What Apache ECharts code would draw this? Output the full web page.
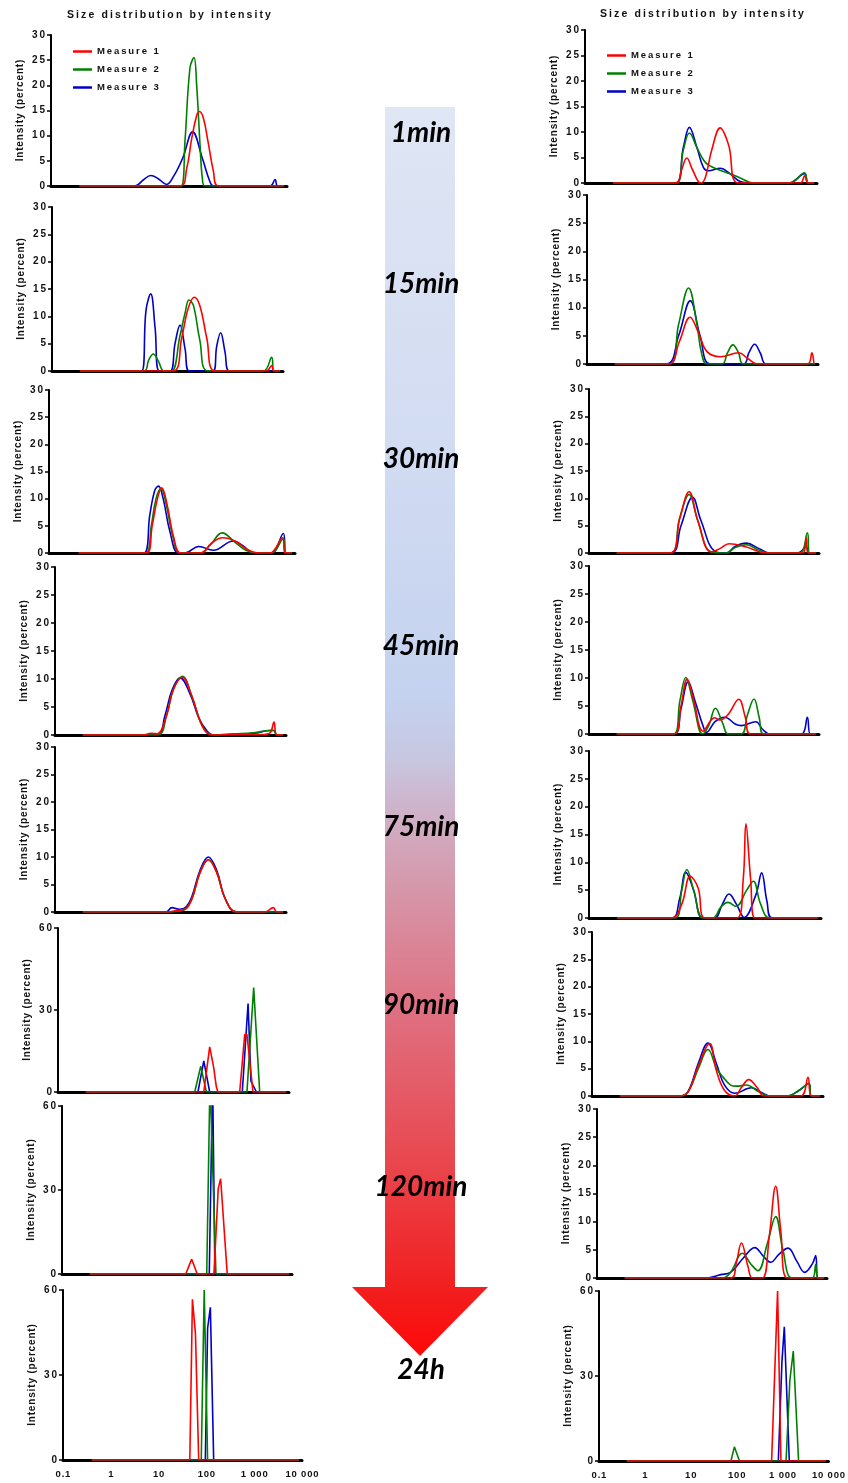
<!DOCTYPE html>
<html>
<head>
<meta charset="utf-8">
<script src="https://cdn.jsdelivr.net/npm/echarts/dist/echarts.min.js"></script>
<style>
  html, body { margin: 0; padding: 0; background: #fff; }
  #chart { width: 848px; height: 1483px; }
</style>
</head>
<body>
<div id="chart"></div>
<script>
// tick labels / names
const sizeTicks = [0.1, 1, 10, 100, 1000, 10000]
const sizeTickLabels = ['0.1', '1', '10', '100', '1 000', '10 000']
const timeLabels = ['1min', '15min', '30min', '45min', '75min', '90min', '120min', '24h']
const measureNames = ['Measure 1', 'Measure 2', 'Measure 3']

// [size (d.nm), intensity %] -- left column
const L1_m1 = [[0.4,0],[54,0],[75,3.5],[96,9.5],[122,14],[139,14.8],[169,13.5],[215,8.5],[275,3],[351,0],[8700,0]]
const L1_m2 = [[0.4,0],[57,0],[69,9],[88,23.5],[107,25.5],[122,20],[144,8],[161,1.5],[183,0],[8700,0]]
const L1_m3 = [[0.4,0],[6,0],[9,1.2],[13,2.1],[19,1.4],[28,0.3],[40,2],[62,5.6],[100,10.75],[162,5.4],[230,1],[275,0],[4400,0],[5600,1.3],[6300,0],[8700,0]]

const L2_m1 = [[0.4,0],[42,0],[64,6],[89,11.5],[120,13.5],[158,12],[224,6],[339,0],[4400,0],[5700,1],[6400,0],[8700,0]]
const L2_m2 = [[0.4,0],[9.8,0],[12.4,2],[15.6,3.1],[20,1.8],[26.5,0],[39,0],[59,6.5],[76,10.6],[92,13],[115,12],[158,5.7],[240,0],[3760,0],[5690,2.5],[6380,0],[8700,0]]
const L2_m3 = [[0.4,0],[8.7,0],[10.8,11],[13.7,14.1],[17,8],[21,0],[36,0],[46,5],[59,8.4],[76,4],[93,0],[309,0],[367,4.5],[447,7],[555,3.5],[690,0],[8700,0]]

const L3_m1 = [[0.4,0],[9.6,0],[12.5,5],[16,10],[19.6,12],[25,9],[34,3],[48,0],[125,0],[200,1.8],[340,2.8],[600,2.2],[1100,0.6],[1900,0],[3100,0],[5600,2.8],[6300,0],[8700,0]]
const L3_m2 = [[0.4,0],[9.3,0],[12,5],[15,10],[19,11.9],[24,9],[33,3],[46,0],[117,0],[190,1.5],[331,3.7],[600,2],[1000,0.5],[1660,0],[3350,0],[5780,2.6],[6560,0],[8700,0]]
const L3_m3 = [[0.4,0],[8.5,0],[11.2,7],[14.1,11.5],[16.8,12.3],[20.9,10],[28.6,4],[42,0],[58,0],[111,1.2],[218,0.5],[556,2.2],[890,1.3],[1420,0],[3350,0],[5780,3.6],[6560,0],[8700,0]]

const L4_m1 = [[0.4,0],[8,0],[12,0.3],[16.4,0.2],[26,3.5],[36,8],[57,10.3],[91,7],[138,2.5],[192,0.4],[270,0],[800,0.1],[3000,0.1],[4500,0.4],[5500,2.3],[6300,0],[8700,0]]
const L4_m2 = [[0.4,0],[16.4,0],[26,3.5],[36,8],[57,10.5],[91,7],[138,2.5],[192,0.5],[270,0],[725,0.2],[2000,0.4],[4500,0.8],[5500,0.8],[6300,0],[8700,0]]
const L4_m3 = [[0.4,0],[16,0],[24,3.5],[34,8],[51,10.2],[85,7.2],[130,3],[192,0.8],[270,0],[725,0.1],[2000,0.3],[4500,0.8],[5500,0.8],[6300,0],[8700,0]]

const L5_m1 = [[0.4,0],[28,0],[45,0.3],[65,0.5],[91,2.3],[138,7.2],[208,9.5],[316,7.2],[479,2.5],[850,0],[3500,0],[5300,0.8],[6300,0],[8700,0]]
const L5_m2 = [[0.4,0],[30,0],[60,0.3],[91,2.3],[138,7.2],[208,9.5],[316,7.2],[479,2.5],[850,0],[8700,0]]
const L5_m3 = [[0.4,0],[25,0],[34,0.8],[50,0.5],[70,1],[91,2.7],[138,7.6],[208,10],[316,7.6],[479,2.5],[850,0],[8700,0]]

const L6_m1 = [[0.4,0],[143,0],[192,16.5],[234,9],[268,1.8],[290,0],[857,0],[1100,21],[1230,21],[1660,0],[8700,0]]
const L6_m2 = [[0.4,0],[91,0],[123,9.4],[163,0],[1230,0],[1720,38.2],[2320,0],[8700,0]]
const L6_m3 = [[0.4,0],[107,0],[143,11.4],[192,0],[975,0],[1300,32.4],[1500,4],[1970,0],[8700,0]]

const L7_m1 = [[0.4,0],[49,0],[66,5.3],[87,0],[201,0],[249,30.5],[281,34],[391,0],[8700,0]]
const L7_m2 = [[0.4,0],[140,0],[165,70],[222,0],[8700,0]]
const L7_m3 = [[0.4,0],[159,0],[188,70],[211,0],[8700,0]]

const L8_m1 = [[0.4,0],[45,0],[51,56.7],[59,44.7],[69,0],[8700,0]]
const L8_m2 = [[0.4,0],[78,0],[90,60],[106,0],[8700,0]]
const L8_m3 = [[0.4,0],[95,0],[106,46.5],[121,53.9],[142,0],[8700,0]]

// right column
const R1_m1 = [[0.4,0],[9.2,0],[12,2.5],[15.6,4.9],[21,2.5],[31,0],[39,1],[54,6.5],[82,10.8],[124,7.5],[204,0],[4370,0],[5410,1.4],[6390,0],[8700,0]]
const R1_m2 = [[0.4,0],[8.8,0],[13.2,6.5],[17.8,9.8],[25.7,7],[35.8,4.5],[46,3.5],[82,2.5],[135,1.8],[222,1],[429,0],[2600,0],[5400,2],[6400,0],[8700,0]]
const R1_m3 = [[0.4,0],[8.8,0],[13.2,7],[17.8,10.9],[25.7,7],[35.8,3],[46,2.4],[82,2.9],[135,1.8],[222,0.3],[429,0],[2440,0],[5400,1.8],[6400,0],[8700,0]]

const R2_m1 = [[0.4,0],[5.8,0],[10,4],[17,8.3],[26,5.5],[39.5,2.2],[77,1.3],[192,2],[300,1],[479,0],[5950,0],[7400,2],[8400,0],[8700,0]]
const R2_m2 = [[0.4,0],[6.1,0],[9.6,7],[15.8,13.5],[24,7],[30,2],[39.5,0],[84,0],[110,2],[144,3.4],[190,2],[245,0],[8700,0]]
const R2_m3 = [[0.4,0],[5.2,0],[9.6,5],[17.2,11.2],[28,5],[47,0],[245,0],[320,2],[425,3.5],[560,2],[760,0],[8700,0]]

const R3_m1 = [[0.4,0],[5.7,0],[9.4,6.3],[15,11.2],[23.6,5.7],[45,0.2],[70,0.8],[111,1.7],[263,1.1],[720,0],[4490,0],[5300,2.8],[5750,0],[8700,0]]
const R3_m2 = [[0.4,0],[5.7,0],[9.4,6.5],[15,10.7],[23,6],[45,0.2],[98,0],[150,1],[263,1.5],[500,0.5],[850,0],[3800,0],[5590,3.7],[6260,0],[8700,0]]
const R3_m3 = [[0.4,0],[6,0],[10,5],[17.8,10.2],[27,6],[55,0.3],[98,0],[150,1.2],[263,1.8],[500,0.8],[850,0],[3500,0],[5300,1.1],[6000,0],[8700,0]]

const R4_m1 = [[0.4,0],[7,0],[10,5],[13.6,9.8],[19,6],[30,0.5],[54,2.9],[70,2.5],[106,3.5],[180,6.2],[250,3],[324,0],[8700,0]]
const R4_m2 = [[0.4,0],[6.8,0],[9.5,6],[12.7,10.1],[18,6],[29.4,0],[40,1.5],[56,4.6],[80,2],[106,0],[206,0],[280,3.5],[387,6.25],[500,3],[631,0],[8700,0]]
const R4_m3 = [[0.4,0],[7,0],[10,4.5],[14.3,9.3],[20,6],[30,1.5],[36,0.3],[55,2.2],[90,3],[150,1.8],[206,1.5],[421,2.2],[600,0.8],[850,0],[4140,0],[5580,3],[6460,0],[8700,0]]

const R5_m1 = [[0.4,0],[6,0],[9.9,2.4],[15.2,7.5],[22.5,5.4],[32,0],[154,0],[211,7],[241,16.9],[304,7],[378,0],[8700,0]]
const R5_m2 = [[0.4,0],[7.1,0],[10,5],[12.8,8.7],[18,5],[28.4,0],[47,0],[70,2],[99,2.8],[147,2.1],[250,5],[347,6.6],[500,2.5],[794,0],[8700,0]]
const R5_m3 = [[0.4,0],[6,0],[9,3.5],[12.2,8.2],[18,5],[28,0],[51,0],[75,2.5],[104,4.3],[150,2.5],[221,0.1],[396,4.2],[525,8.1],[684,3],[891,0],[8700,0]]

const R6_m1 = [[0.4,0],[7.9,0],[12,0.7],[20,5.5],[35.2,9.6],[49,4.7],[74,1],[123,0],[170,1.5],[247,3],[380,1.5],[528,0],[3290,0],[4730,3.4],[5610,0],[8700,0]]
const R6_m2 = [[0.4,0],[7.9,0],[12,0.8],[20,5],[32.4,8.5],[50,5],[68,3.5],[100,2],[133,1.8],[220,2],[400,0.8],[702,0],[1690,0],[3000,1],[4970,2.3],[5610,0],[8700,0]]
const R6_m3 = [[0.4,0],[7.9,0],[12,0.8],[20,6],[32.4,9.7],[49,6],[74,2],[123,0.5],[282,1.5],[500,0.5],[738,0],[1690,0],[3000,1],[4970,2.3],[5610,0],[8700,0]]

const R7_m1 = [[0.4,0],[81,0],[107,2.7],[138,6.2],[192,2],[239,0],[393,0],[556,7.4],[767,16.3],[984,8.6],[1380,0],[8700,0]]
const R7_m2 = [[0.4,0],[53,0],[80,1],[145,4.4],[220,2.5],[316,1.3],[500,6],[767,10.9],[1100,5],[1770,0],[4810,0],[5680,2.4],[6380,0],[8700,0]]
const R7_m3 = [[0.4,0],[23,0],[49,0.6],[80,1],[150,3.5],[268,5.4],[420,3.8],[597,2.8],[900,4.2],[1420,5.3],[2200,3],[3270,1],[4800,2.5],[5680,4],[6380,0],[8700,0]]

const R8_m1 = [[0.4,0],[577,0],[778,60],[920,0],[8700,0]]
const R8_m2 = [[0.4,0],[75,0],[89,5],[115,0],[1190,0],[1440,28.5],[1710,38.8],[2230,0],[8700,0]]
const R8_m3 = [[0.4,0],[807,0],[968,35],[1090,47.4],[1400,0],[8700,0]]

const FONT = '"Liberation Sans", Arial, sans-serif'
const colors = ['#ff0000', '#008000', '#0000c8']
// fake letter spacing (Prism style)
const sp = s => String(s).split('').join('\u2009')
const spHair = s => String(s).split('').join('\u200A')

// panel boxes: l = y axis x, t = top tick y, r = x axis end, b = zero line y
const panels = [
  { l: 51, t: 35, r: 287, b: 186, max: 30, smooth: true, data: [L1_m1, L1_m2, L1_m3] },
  { l: 52, t: 207, r: 283, b: 371, max: 30, smooth: true, data: [L2_m1, L2_m2, L2_m3] },
  { l: 49, t: 390, r: 295, b: 553, max: 30, smooth: true, data: [L3_m1, L3_m2, L3_m3] },
  { l: 55, t: 567, r: 286, b: 735, max: 30, smooth: true, data: [L4_m1, L4_m2, L4_m3] },
  { l: 55, t: 747, r: 286, b: 912, max: 30, smooth: true, data: [L5_m1, L5_m2, L5_m3] },
  { l: 58, t: 928, r: 289, b: 1092, max: 60, smooth: false, data: [L6_m1, L6_m2, L6_m3] },
  { l: 62, t: 1106, r: 292, b: 1274, max: 60, smooth: false, data: [L7_m1, L7_m2, L7_m3] },
  { l: 63, t: 1290, r: 302, b: 1460, max: 60, smooth: false, data: [L8_m1, L8_m2, L8_m3], bottom: true },
  { l: 585, t: 30, r: 817, b: 183, max: 30, smooth: true, data: [R1_m1, R1_m2, R1_m3] },
  { l: 587, t: 195, r: 818, b: 364, max: 30, smooth: true, data: [R2_m1, R2_m2, R2_m3] },
  { l: 589, t: 389, r: 819, b: 553, max: 30, smooth: true, data: [R3_m1, R3_m2, R3_m3] },
  { l: 589, t: 566, r: 819, b: 734, max: 30, smooth: true, data: [R4_m1, R4_m2, R4_m3] },
  { l: 589, t: 751, r: 821, b: 918, max: 30, smooth: true, data: [R5_m1, R5_m2, R5_m3] },
  { l: 592, t: 932, r: 823, b: 1096, max: 30, smooth: true, data: [R6_m1, R6_m2, R6_m3] },
  { l: 597, t: 1109, r: 827, b: 1278, max: 30, smooth: true, data: [R7_m1, R7_m2, R7_m3] },
  { l: 599, t: 1291, r: 829, b: 1461, max: 60, smooth: false, data: [R8_m1, R8_m2, R8_m3], bottom: true }
]

const labelStyle = { fontFamily: FONT, fontWeight: 'bold', fontSize: 10, color: '#111' }

const grid = [], xAxis = [], yAxis = [], series = []
panels.forEach((p, i) => {
  grid.push({ left: p.l, top: p.t, width: p.r - p.l, height: p.b - p.t })
  xAxis.push({
    type: 'log', gridIndex: i, min: 0.1, max: 10000, logBase: 10,
    axisLine: { lineStyle: { color: '#000', width: 3 } },
    axisTick: { show: false },
    splitLine: { show: false },
    axisLabel: {
      show: !!p.bottom, margin: 9, ...labelStyle, fontSize: 9.5,
      formatter: v => {
        const k = sizeTicks.findIndex(t => Math.abs(Math.log10(t) - Math.log10(v)) < 0.01)
        return k < 0 ? '' : spHair(sizeTickLabels[k])
      }
    }
  })
  yAxis.push({
    type: 'value', gridIndex: i, min: 0, max: p.max, interval: p.max === 60 ? 30 : 5,
    name: spHair('Intensity (percent)'), nameLocation: 'middle', nameGap: 26,
    nameTextStyle: { ...labelStyle },
    axisLine: { show: true, lineStyle: { color: '#000', width: 2 } },
    axisTick: { show: true, length: 4, lineStyle: { color: '#000', width: 1.5 } },
    splitLine: { show: false },
    axisLabel: { margin: 6, ...labelStyle, formatter: v => sp(v) }
  })
  // draw blue, green, then red so red sits on top
  ;[2, 1, 0].forEach(m => {
    series.push({
      name: measureNames[m], type: 'line', xAxisIndex: i, yAxisIndex: i,
      data: p.data[m], showSymbol: false, symbol: 'none',
      smooth: p.smooth ? 0.4 : false,
      color: colors[m],
      lineStyle: { width: 1.6, color: colors[m] },
      animation: false
    })
  })
})

const legendBase = {
  data: measureNames, orient: 'vertical', padding: 0, icon: 'rect',
  itemWidth: 19, itemHeight: 2.5, itemGap: 7, itemTextGap: 12,
  textStyle: { ...labelStyle, fontSize: 9.5, lineHeight: 11 },
  formatter: name => sp(name)
}

// arrow in the middle
const arrowGradient = new echarts.graphic.LinearGradient(0, 0, 0, 1, [
  { offset: 0, color: '#dfe6f4' },
  { offset: 0.235, color: '#d4ddf2' },
  { offset: 0.475, color: '#c4d2ef' },
  { offset: 0.523, color: '#c8c6e0' },
  { offset: 0.595, color: '#d3a3b7' },
  { offset: 0.716, color: '#de7384' },
  { offset: 0.836, color: '#e84a52' },
  { offset: 0.948, color: '#f21e1e' },
  { offset: 1, color: '#ff0808' }
])
const timeY = [133, 284, 459, 646, 827, 1005, 1187, 1370]

const graphic = [
  {
    type: 'polygon', z: 0,
    shape: { points: [[385, 107], [455, 107], [455, 1287], [488, 1287], [420, 1356], [352, 1287], [385, 1287]] },
    style: { fill: arrowGradient }
  },
  ...timeLabels.map((t, k) => ({
    type: 'text', x: 421, y: timeY[k], z: 10,
    style: {
      text: t, fill: '#000', align: 'center', verticalAlign: 'middle',
      font: 'italic bold 28px Lato, "Open Sans", sans-serif'
    }
  }))
]

const chart = echarts.init(document.getElementById('chart'), null, { renderer: 'canvas' })
chart.setOption({
  animation: false,
  backgroundColor: '#fff',
  title: [
    { text: sp('Size distribution by intensity'), left: 67, top: 10, padding: 0, textStyle: { ...labelStyle, fontSize: 10.5 } },
    { text: sp('Size distribution by intensity'), left: 600, top: 9, padding: 0, textStyle: { ...labelStyle, fontSize: 10.5 } }
  ],
  legend: [
    { ...legendBase, left: 73, top: 46 },
    { ...legendBase, left: 607, top: 50 }
  ],
  grid, xAxis, yAxis, series, graphic
})
</script>
</body>
</html>
